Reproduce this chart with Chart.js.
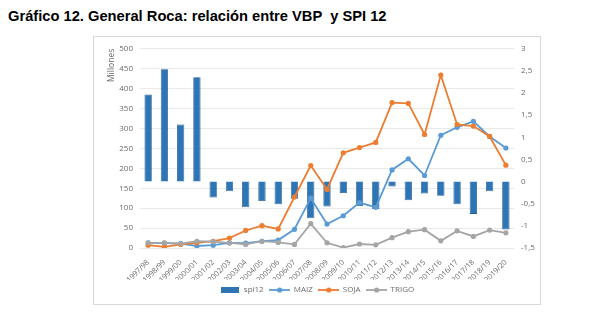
<!DOCTYPE html>
<html lang="es">
<head>
<meta charset="UTF-8">
<title>Gráfico 12. General Roca</title>
<script src="https://cdn.jsdelivr.net/npm/chart.js"></script>
<style>
  body { margin: 0; background: #fff; width: 589px; height: 326px; position: relative; overflow: hidden; }
  .titulo {
    position: absolute; left: 8px; top: 8px;
    font: bold 14.7px 'Liberation Sans', Arial, sans-serif; color: #000;
    white-space: pre;
  }
  .grafico {
    position: absolute; left: 93px; top: 36px;
    width: 446px; height: 267px; border: 1px solid #d9d9d9;
  }
  canvas { display: block; }
</style>
</head>
<body>
<div class="titulo">Gráfico 12. General Roca: relación entre VBP  y SPI 12</div>
<div class="grafico"><canvas id="graf" width="446" height="267"></canvas></div>

<script>
// campañas
const campanias = ['1997/98', '1998/99', '1999/00', '2000/01', '2001/02', '2002/03', '2003/04',
  '2004/05', '2005/06', '2006/07', '2007/08', '2008/09', '2009/10', '2010/11', '2011/12',
  '2012/13', '2013/14', '2014/15', '2015/16', '2016/17', '2017/18', '2018/19', '2019/20'];

// índice de precipitación estandarizado (eje derecho)
const spi12 = [1.97, 2.54, 1.29, 2.36, -0.36, -0.22, -0.58, -0.44, -0.51, -0.39, -0.83, -0.56,
  -0.26, -0.55, -0.62, -0.11, -0.42, -0.27, -0.32, -0.51, -0.73, -0.22, -1.08];

// valor bruto de producción, millones (eje izquierdo)
const maiz = [13, 12, 11, 5, 7, 13, 12, 17, 20, 47, 125, 60, 81, 114, 102, 196, 224, 182, 283, 303, 318, 280, 251];
const soja = [7, 3, 9, 13, 17, 25, 44, 56, 48, 128, 207, 147, 239, 252, 265, 365, 363, 285, 434, 310, 306, 280, 208];
const trigo = [13, 13, 11, 17, 16, 13, 9, 17, 14, 9, 61, 13, 1, 10, 8, 26, 41, 46, 18, 43, 29, 45, 38];

const ticksIzq = ['0', '50', '100', '150', '200', '250', '300', '350', '400', '450', '500'];
const ticksDer = ['-1,5', '-1', '-0,5', '0', '0,5', '1', '1,5', '2', '2,5', '3'];

const AZUL_BARRA = '#2E75B6';
const AZUL = '#5B9BD5';
const NARANJA = '#ED7D31';
const GRIS = '#A5A5A5';
const TEXTO = '#6b6b6b';
const FUENTE = "'Open Sans', 'Liberation Sans', sans-serif";

// iconos de la leyenda: rectángulo para la barra, línea con marcador para las series
function iconoBarra(color) {
  const c = document.createElement('canvas');
  c.width = 18; c.height = 6;
  const g = c.getContext('2d');
  g.fillStyle = color;
  g.fillRect(0, 0, 18, 6);
  return c;
}
function iconoLinea(color) {
  const c = document.createElement('canvas');
  c.width = 21; c.height = 8;
  const g = c.getContext('2d');
  g.strokeStyle = color; g.lineWidth = 1.8;
  g.beginPath(); g.moveTo(0, 4); g.lineTo(21, 4); g.stroke();
  g.fillStyle = color;
  g.beginPath(); g.arc(10.5, 4, 2.6, 0, Math.PI * 2); g.fill();
  return c;
}
const iconos = [iconoBarra(AZUL_BARRA), iconoLinea(AZUL), iconoLinea(NARANJA), iconoLinea(GRIS)];

function serie(label, data, color, order) {
  return {
    type: 'line', label, data, order, yAxisID: 'y',
    borderColor: color, backgroundColor: color,
    borderWidth: 1.8, pointRadius: 2.6, pointHoverRadius: 3,
    pointBackgroundColor: color, pointBorderWidth: 0, tension: 0
  };
}

new Chart(document.getElementById('graf'), {
  data: {
    labels: campanias,
    datasets: [
      {
        type: 'bar', label: 'spi12', data: spi12, yAxisID: 'y1', order: 4,
        backgroundColor: AZUL_BARRA, borderColor: '#245d93', borderWidth: 0.8,
        barPercentage: 0.45, categoryPercentage: 1
      },
      serie('MAIZ', maiz, AZUL, 3),
      serie('SOJA', soja, NARANJA, 2),
      serie('TRIGO', trigo, GRIS, 1)
    ]
  },
  options: {
    responsive: false,
    animation: false,
    layout: { padding: { top: 8, left: 0, right: 0, bottom: 0 } },
    plugins: {
      tooltip: { enabled: false },
      legend: {
        position: 'bottom',
        labels: {
          usePointStyle: true,
          pointStyleWidth: 20,
          padding: 6,
          color: TEXTO,
          font: { family: FUENTE, size: 8 },
          sort: (a, b) => a.datasetIndex - b.datasetIndex,
          generateLabels: (chart) =>
            Chart.defaults.plugins.legend.labels.generateLabels(chart)
              .map(l => Object.assign(l, { pointStyle: iconos[l.datasetIndex] }))
        }
      }
    },
    scales: {
      x: {
        grid: { display: false },
        border: { display: false },
        ticks: {
          color: TEXTO, font: { family: FUENTE, size: 7.5 },
          maxRotation: 45, minRotation: 45, autoSkip: false, padding: 2
        },
        afterFit: (s) => { s.height = 32; }
      },
      y: {
        position: 'left', min: 0, max: 500,
        grid: { color: '#e3e3e3', lineWidth: 0.8, drawTicks: false },
        border: { display: false },
        ticks: {
          stepSize: 50, padding: 7, color: TEXTO, font: { family: FUENTE, size: 8 },
          callback: (v, i) => ticksIzq[i]
        },
        title: {
          display: true, text: 'Millones', align: 'end', color: TEXTO,
          font: { family: FUENTE, size: 8.5 }, padding: { top: 12, bottom: 0 }
        },
        afterFit: (s) => { s.width = 46; }
      },
      y1: {
        position: 'right', min: -1.5, max: 3,
        grid: { display: false, drawTicks: false },
        border: { display: false },
        ticks: {
          stepSize: 0.5, padding: 7, color: TEXTO, font: { family: FUENTE, size: 8 },
          callback: (v, i) => ticksDer[i]
        },
        afterFit: (s) => { s.width = 26; }
      }
    }
  }
});
</script>
</body>
</html>
